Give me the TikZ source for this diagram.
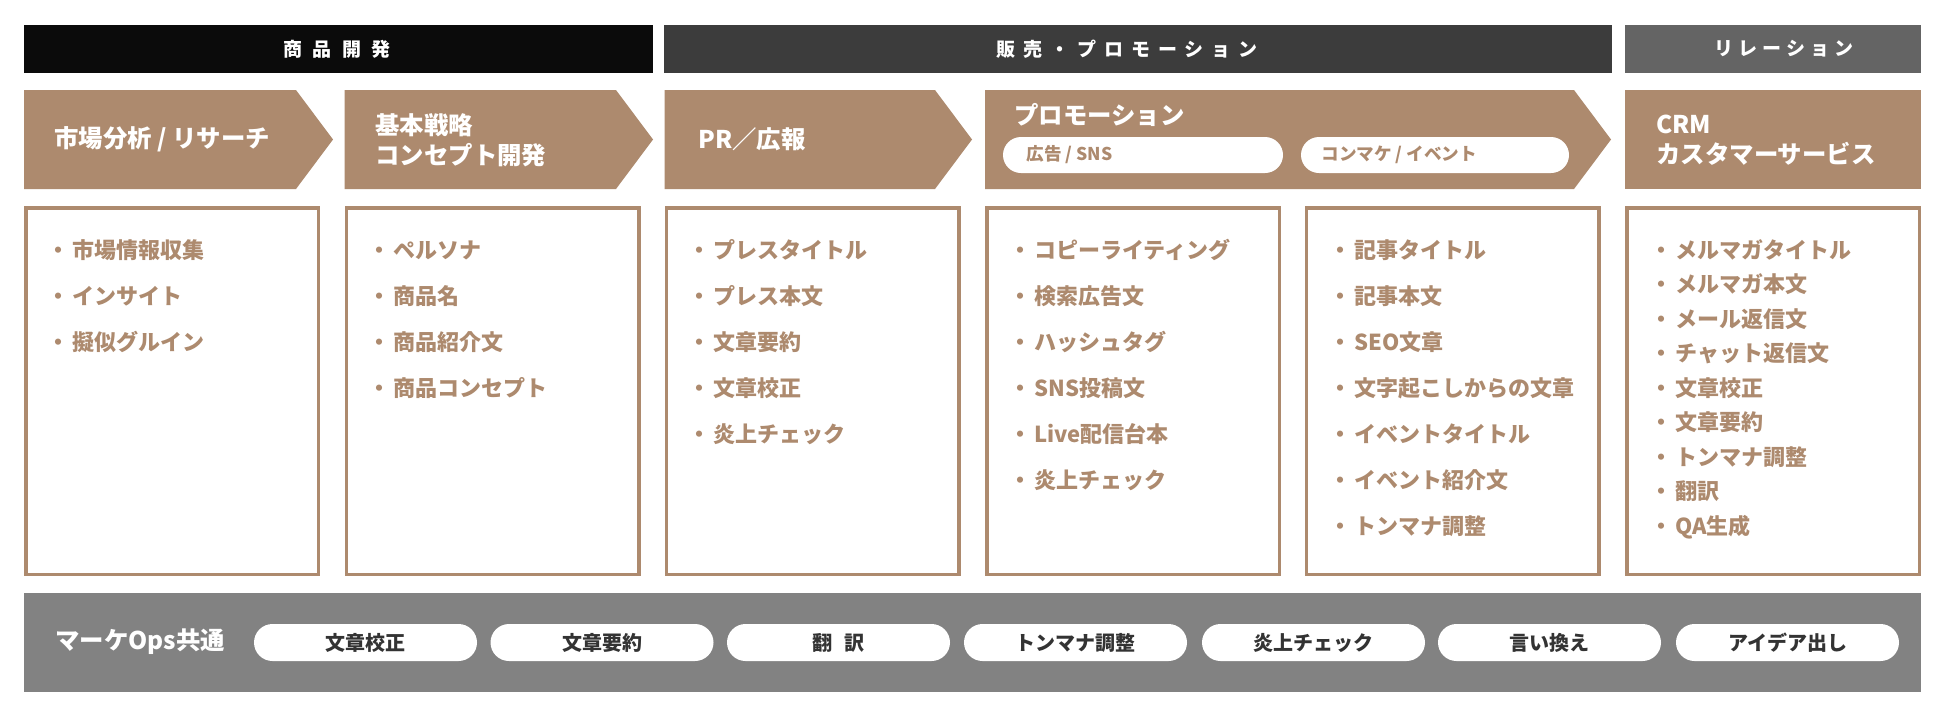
\documentclass[tikz,border=0pt]{standalone}
\usepackage{fontspec}
\setmainfont{Noto Sans CJK JP}
\newfontfamily\hdrfontA{Noto Sans CJK JP}[LetterSpace=54]
\newfontfamily\hdrfontB{Noto Sans CJK JP}[LetterSpace=42]
\newfontfamily\hdrfontC{Noto Sans CJK JP}[LetterSpace=27]
\usetikzlibrary{shapes.misc}
\definecolor{hdrA}{HTML}{0B0B0B}
\definecolor{hdrB}{HTML}{3C3C3C}
\definecolor{hdrC}{HTML}{646464}
\definecolor{brn}{HTML}{AD8A6E}
\definecolor{botgray}{HTML}{828282}
\definecolor{pilltxt}{HTML}{333333}
\newcommand\itemlist[4]{%
  \foreach \t [count=\i] in {#4} {%
    \node[itm] (#1-\i) at ({#2},{258+(\i-1)*#3}) {・\hspace{1.5pt}\t};}}
\begin{document}
\begin{tikzpicture}[x=0.5pt,y=-0.5pt,
  hdrtext/.style={text=white,inner sep=0},
  hdrsize/.style={font=#1\bfseries\fontsize{9.5}{11}\selectfont},
  ttl/.style={anchor=west,inner sep=0,text=white,align=left,font=\bfseries\fontsize{12.2}{15}\selectfont},
  boxline/.style={draw=brn,line width=1.75pt,fill=white},
  itm/.style={anchor=base west,inner sep=0,text=brn,font=\bfseries\fontsize{11}{13}\selectfont},
  ppill/.style={rounded rectangle,fill=white,minimum height=18pt,inner sep=0},
  ptext/.style={anchor=west,inner sep=0,text=brn,font=\bfseries\fontsize{8.8}{10}\selectfont},
  bpill/.style={rounded rectangle,fill=white,minimum width=111.5pt,minimum height=18.5pt,inner sep=0,text=pilltxt,font=\bfseries\fontsize{10}{12}\selectfont},
]
\useasboundingbox (0,0) rectangle (1950,719);
\fill[white] (0,0) rectangle (1950,719);

% header bars
\fill[hdrA] (24,25) rectangle (653,73);
\fill[hdrB] (664,25) rectangle (1612,73);
\fill[hdrC] (1625,25) rectangle (1921,73);
\node[hdrtext,hdrsize=\hdrfontA] (h1) at (337,49) {商品開発};
\node[hdrtext,hdrsize=\hdrfontB] (h2) at (1127,49) {販売・プロモーション};
\node[hdrtext,hdrsize=\hdrfontC] (h3) at (1784,49) {リレーション};

% chevrons
\fill[brn] (24,90) -- (296,90) -- (333,139.5) -- (296,189) -- (24,189) -- cycle;
\fill[brn] (344.5,90) -- (616,90) -- (653,139.5) -- (616,189) -- (344.5,189) -- cycle;
\fill[brn] (664.5,90) -- (935,90) -- (972,139.5) -- (935,189) -- (664.5,189) -- cycle;
\fill[brn] (985,90) -- (1574,90) -- (1611,139.5) -- (1574,189) -- (985,189) -- cycle;
\fill[brn] (1625,90) rectangle (1921,189);

\node[ttl] (t1) at (54,139.5) {市場分析 / リサーチ};
\node[ttl] (t2) at (375,140) {基本戦略\\コンセプト開発};
\node[ttl] (t3) at (698,139.5) {PR／広報};
\node[ttl] (t4) at (1014,115) {プロモーション};
\node[ttl] (t5) at (1656,140) {CRM\\カスタマーサービス};

\node[ppill,minimum width=140pt] (p1) at (1143,155) {};
\node[ppill,minimum width=134pt] (p2) at (1435,155) {};
\node[ptext] (p1t) at (1026,155) {広告 / SNS};
\node[ptext] (p2t) at (1321,155) {コンマケ / イベント};

% boxes
\draw[boxline] (25.75,207.75) rectangle (318.25,574.25);
\draw[boxline] (346.25,207.75) rectangle (638.75,574.25);
\draw[boxline] (666.25,207.75) rectangle (958.75,574.25);
\draw[boxline] (986.75,207.75) rectangle (1279.25,574.25);
\draw[boxline] (1306.25,207.75) rectangle (1598.75,574.25);
\draw[boxline] (1626.75,207.75) rectangle (1919.25,574.25);

\itemlist{a}{47}{46}{市場情報収集,インサイト,擬似グルイン}
\itemlist{b}{368}{46}{ペルソナ,商品名,商品紹介文,商品コンセプト}
\itemlist{c}{688}{46}{プレスタイトル,プレス本文,文章要約,文章校正,炎上チェック}
\itemlist{d}{1009}{46}{コピーライティング,検索広告文,ハッシュタグ,SNS投稿文,Live配信台本,炎上チェック}
\itemlist{e}{1329}{46}{記事タイトル,記事本文,SEO文章,文字起こしからの文章,イベントタイトル,イベント紹介文,トンマナ調整}
\itemlist{f}{1650}{34.5}{メルマガタイトル,メルマガ本文,メール返信文,チャット返信文,文章校正,文章要約,トンマナ調整,翻訳,QA生成}

% bottom bar
\fill[botgray] (24,593) rectangle (1921,692);
\node[anchor=west,inner sep=0,text=white,font=\bfseries\fontsize{12.2}{15}\selectfont] (lbl) at (55,642) {マーケOps共通};
\node[bpill] (q1) at (365.5,642.5) {文章校正};
\node[bpill] (q2) at (602,642.5) {文章要約};
\node[bpill] (q3) at (838.5,642.5) {翻\hspace{0.6em}訳};
\node[bpill] (q4) at (1075.5,642.5) {トンマナ調整};
\node[bpill] (q5) at (1313.5,642.5) {炎上チェック};
\node[bpill] (q6) at (1549.5,642.5) {言い換え};
\node[bpill] (q7) at (1787.5,642.5) {アイデア出し};
\end{tikzpicture}
\end{document}
